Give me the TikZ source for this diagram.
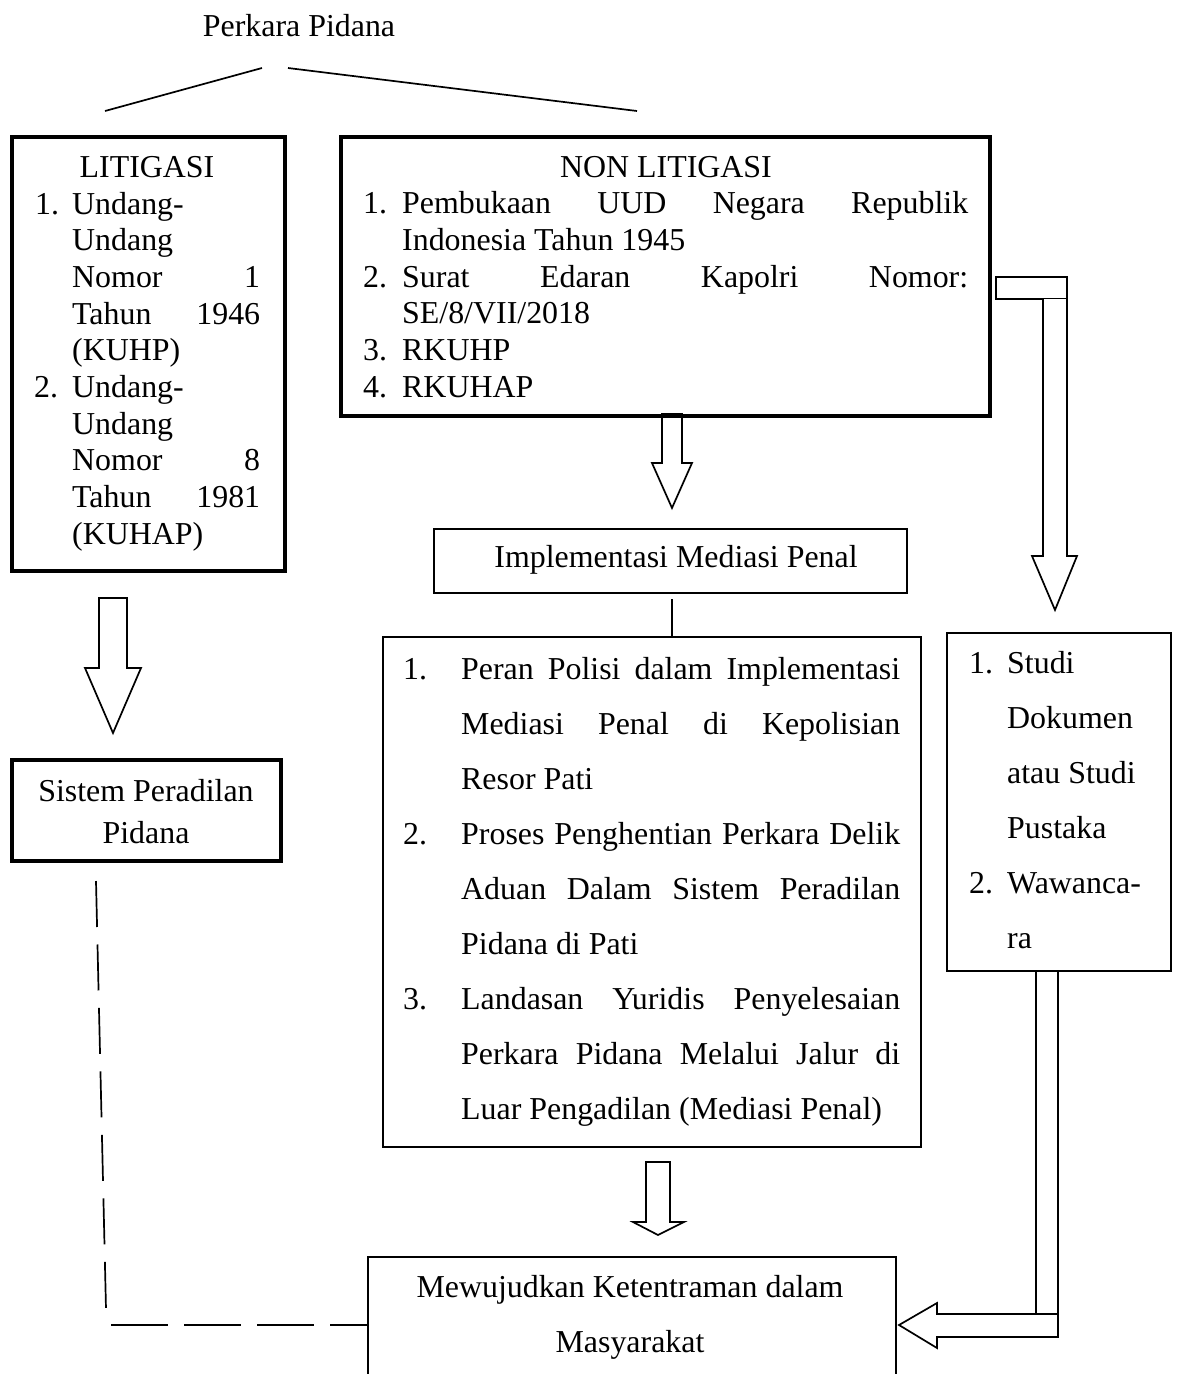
\documentclass[tikz,border=0pt]{standalone}
\usepackage{fontspec}
\setmainfont{Liberation Serif}
\newcommand\fsz{\fontsize{31.9}{36.7}\selectfont}
\begin{document}
\begin{tikzpicture}[x=1pt,y=-1pt,line join=miter,
  thin/.style={line width=1.7pt},
  thickbox/.style={draw,rectangle,line width=4.2pt,inner sep=0pt},
  thinbox/.style={draw,rectangle,line width=1.8pt,inner sep=0pt},
  blockarrow/.style={draw,fill=white,line width=1.7pt},
  tx/.style={inner sep=0pt,anchor=base west,font=\fsz},
  tc/.style={inner sep=0pt,anchor=base,font=\fsz},
  dashv/.style={line width=1.7pt,dash pattern=on 46pt off 17.5pt},
  dashh/.style={line width=1.7pt,dash pattern=on 57pt off 16pt}]
\useasboundingbox (0,0) rectangle (1176,1374);
\clip (0,0) rectangle (1176,1374);

% block arrows (drawn first, boxes on top)
\draw[blockarrow] (99,598) -- (127,598) -- (127,668) -- (141,668) -- (113,733) -- (85,668) -- (99,668) -- cycle;
\draw[blockarrow] (662,414) -- (682,414) -- (682,463) -- (692,463) -- (672,508) -- (652,463) -- (662,463) -- cycle;
\draw[blockarrow] (996,277) rectangle (1067,299);
\draw[blockarrow] (1043,299) -- (1043,556) -- (1032,556) -- (1055,610) -- (1077,556) -- (1067,556) -- (1067,299);
\draw[blockarrow] (646,1162) -- (670,1162) -- (670,1222) -- (684,1222) -- (658,1235) -- (633,1222) -- (646,1222) -- cycle;
\draw[blockarrow] (1036,971) rectangle (1058,1314);
\draw[blockarrow] (1058,1314) -- (937,1314) -- (937,1303) -- (899,1325) -- (937,1348) -- (937,1337) -- (1058,1337) -- cycle;

% boxes
\node[thickbox,minimum width=273,minimum height=434] (lit) at (148.5,354) {};
\node[thickbox,minimum width=649,minimum height=279] (non) at (665.5,276.5) {};
\node[thinbox,minimum width=473,minimum height=64] (impl) at (670.5,561) {};
\node[thinbox,minimum width=538,minimum height=510] (peran) at (652,892) {};
\node[thinbox,minimum width=224,minimum height=338] (studi) at (1059,802) {};
\node[thickbox,minimum width=269,minimum height=101] (sis) at (146.5,810.5) {};
\node[thinbox,minimum width=528,minimum height=240] (mew) at (632,1377) {};

% top connectors
\node[tc] (pp) at (299,36) {Perkara Pidana};
\coordinate (ta) at (262,68);
\coordinate (tb) at (105,111);
\coordinate (tc1) at (288,68);
\coordinate (td) at (637,111);
\draw[thin] (ta) -- (tb);
\draw[thin] (tc1) -- (td);

% implementasi to list box
\coordinate (il) at (672,599);
\draw[thin] (il) -- (il |- peran.north);

% dashed connector
\coordinate (da) at (96,881);
\coordinate (db) at (106,1309);
\coordinate (dc) at (111,1325);
\draw[dashv] (da) -- (db);
\draw[dashh] (dc) -- (dc -| mew.west);

% LITIGASI text
\node[tc] (lith) at (147,177) {LITIGASI};
\node[tx] (l1n) at (35,214) {1.};
\node[tx] (l1a) at (72,214) {Undang-};
\node[tx] (l1b) at (72,250.5) {Undang};
\node[tx] (l1c) at (72,287) {\makebox[188pt][s]{Nomor 1}};
\node[tx] (l1d) at (72,324) {\makebox[188pt][s]{Tahun 1946}};
\node[tx] (l1e) at (72,360.5) {(KUHP)};
\node[tx] (l2n) at (34,397) {2.};
\node[tx] (l2a) at (72,397) {Undang-};
\node[tx] (l2b) at (72,434) {Undang};
\node[tx] (l2c) at (72,470.5) {\makebox[188pt][s]{Nomor 8}};
\node[tx] (l2d) at (72,507) {\makebox[188pt][s]{Tahun 1981}};
\node[tx] (l2e) at (72,544) {(KUHAP)};

% NON LITIGASI text
\node[tc] (nonh) at (666,177) {NON LITIGASI};
\node[tx] (n1n) at (363,213.5) {1.};
\node[tx] (n1a) at (402,213.5) {\makebox[566pt][s]{Pembukaan UUD Negara Republik}};
\node[tx] (n1b) at (402,250) {Indonesia Tahun 1945};
\node[tx] (n2n) at (363,287) {2.};
\node[tx] (n2a) at (402,287) {\makebox[566pt][s]{Surat Edaran Kapolri Nomor:}};
\node[tx] (n2b) at (402,323.5) {SE/8/VII/2018};
\node[tx] (n3n) at (363,360) {3.};
\node[tx] (n3a) at (402,360) {RKUHP};
\node[tx] (n4n) at (363,397) {4.};
\node[tx] (n4a) at (402,397) {RKUHAP};

% Implementasi
\node[tc] (implt) at (676,567) {Implementasi Mediasi Penal};

% list box
\node[tx] (p1n) at (403,679) {1.};
\node[tx] (p1a) at (461,679) {\makebox[439pt][s]{Peran Polisi dalam Implementasi}};
\node[tx] (p1b) at (461,734) {\makebox[439pt][s]{Mediasi Penal di Kepolisian}};
\node[tx] (p1c) at (461,789) {Resor Pati};
\node[tx] (p2n) at (403,844) {2.};
\node[tx] (p2a) at (461,844) {\makebox[439pt][s]{Proses Penghentian Perkara Delik}};
\node[tx] (p2b) at (461,899) {\makebox[439pt][s]{Aduan Dalam Sistem Peradilan}};
\node[tx] (p2c) at (461,954) {Pidana di Pati};
\node[tx] (p3n) at (403,1009) {3.};
\node[tx] (p3a) at (461,1009) {\makebox[439pt][s]{Landasan Yuridis Penyelesaian}};
\node[tx] (p3b) at (461,1064) {\makebox[439pt][s]{Perkara Pidana Melalui Jalur di}};
\node[tx] (p3c) at (461,1119) {Luar Pengadilan (Mediasi Penal)};

% Studi box
\node[tx] (s1n) at (969,673) {1.};
\node[tx] (s1a) at (1007,673) {Studi};
\node[tx] (s1b) at (1007,728) {Dokumen};
\node[tx] (s1c) at (1007,783) {atau Studi};
\node[tx] (s1d) at (1007,838) {Pustaka};
\node[tx] (s2n) at (969,893) {2.};
\node[tx] (s2a) at (1007,893) {Wawanca-};
\node[tx] (s2b) at (1007,948) {ra};

% Sistem
\node[tc] (sisa) at (146,801) {Sistem Peradilan};
\node[tc] (sisb) at (146,843) {Pidana};

% Mewujudkan
\node[tc] (mewa) at (630,1297) {Mewujudkan Ketentraman dalam};
\node[tc] (mewb) at (630,1352) {Masyarakat};
\end{tikzpicture}
\end{document}
